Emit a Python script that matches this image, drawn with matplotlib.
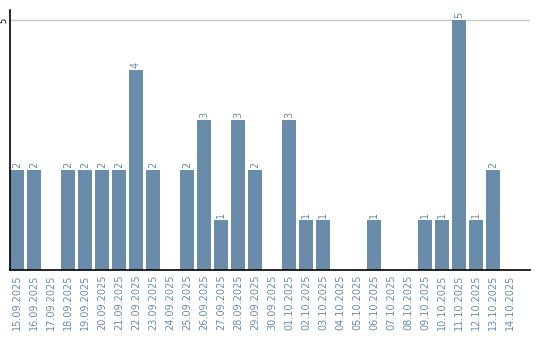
import matplotlib.pyplot as plt
import numpy as np

dates = ['15.09.2025', '16.09.2025', '17.09.2025', '18.09.2025', '19.09.2025',
         '20.09.2025', '21.09.2025', '22.09.2025', '23.09.2025', '24.09.2025',
         '25.09.2025', '26.09.2025', '27.09.2025', '28.09.2025', '29.09.2025',
         '30.09.2025', '01.10.2025', '02.10.2025', '03.10.2025', '04.10.2025',
         '05.10.2025', '06.10.2025', '07.10.2025', '08.10.2025', '09.10.2025',
         '10.10.2025', '11.10.2025', '12.10.2025', '13.10.2025', '14.10.2025']
counts = [2, 2, 0, 2, 2, 2, 2, 4, 2, 0,
          2, 3, 1, 3, 2, 0, 3, 1, 1, 0,
          0, 1, 0, 0, 1, 1, 5, 1, 2, 0]

bar_color = '#6a8cab'
label_color = '#6a8cab'

fig = plt.figure(figsize=(5.4, 3.4), dpi=100)
ax = fig.add_axes([10/540, 70/340, 520/540, 260/340])

x = np.arange(len(dates))
w = 14/17
bars = ax.bar(x, counts, width=w, align='edge', color=bar_color, zorder=2)

for xi, c in zip(x, counts):
    if c > 0:
        ax.text(xi + w/2, c + 0.04, str(c), rotation=90, ha='center', va='bottom',
                fontsize=7, color=label_color)

ax.set_xlim(0, 520/17)
ax.set_ylim(0, 5.2)
ax.set_yticks([5])
ax.set_yticklabels(['5'], rotation=90, va='center', fontsize=6)
ax.axhline(5, color='#c8c8c8', lw=1, zorder=1)
ax.set_xticks(x + w/2)
ax.set_xticklabels(dates, rotation=90, fontsize=7, color=label_color)
ax.tick_params(axis='x', length=0, pad=3)
ax.tick_params(axis='y', length=0, pad=1)
ax.spines['top'].set_visible(False)
ax.spines['right'].set_visible(False)
ax.spines['left'].set_linewidth(1.2)
ax.spines['bottom'].set_linewidth(1.2)

plt.savefig('out.png', dpi=100)
